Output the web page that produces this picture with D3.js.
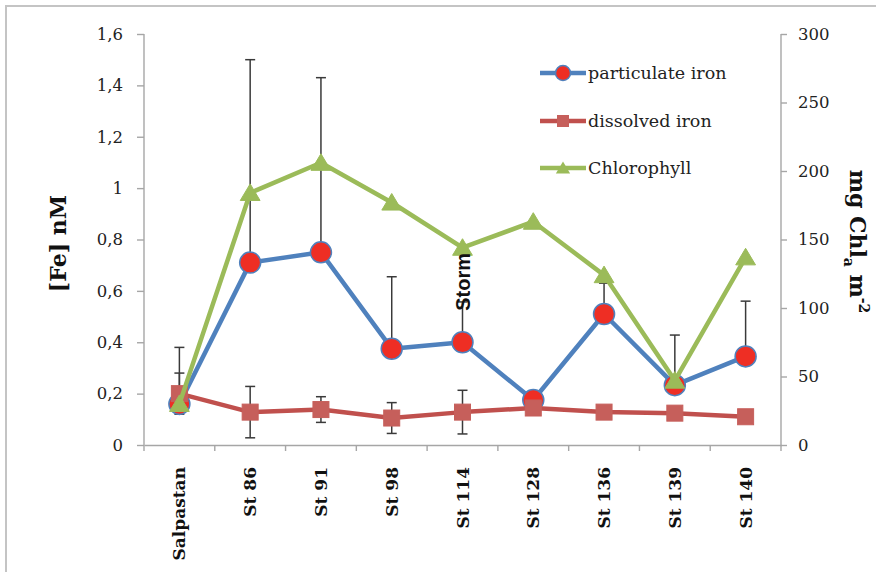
<!DOCTYPE html>
<html>
<head>
<meta charset="utf-8">
<script src="https://cdn.jsdelivr.net/npm/d3@7"></script>
<style>
  html, body { margin: 0; padding: 0; background: #ffffff; }
  svg { display: block; }
</style>
</head>
<body>
<svg id="chart" width="876" height="572"></svg>
<script>
// ---- data ----
const categories = ["Salpastan", "St 86", "St 91", "St 98", "St 114", "St 128", "St 136", "St 139", "St 140"];
const particulateIron = [0.16, 0.71, 0.75, 0.375, 0.40, 0.175, 0.51, 0.233, 0.345];
const particulateErr = [0.22, 0.79, 0.68, 0.28, 0.157, 0, 0.12, 0.195, 0.215];
const dissolvedIron = [0.20, 0.128, 0.138, 0.105, 0.128, 0.144, 0.128, 0.124, 0.11];
const dissolvedErr = [0.08, 0.10, 0.05, 0.06, 0.085, 0, 0, 0, 0];
const chlorophyll = [30, 184, 206, 177, 144, 163, 124, 47, 137];
const leftTicks = [0, 0.2, 0.4, 0.6, 0.8, 1, 1.2, 1.4, 1.6];
const leftTickLabels = ["0", "0,2", "0,4", "0,6", "0,8", "1", "1,2", "1,4", "1,6"];
const rightTicks = [0, 50, 100, 150, 200, 250, 300];
const seriesNames = ["particulate iron", "dissolved iron", "Chlorophyll"];
const annotation = { category: "St 114", text: "Storm", value: 0.635 };

// ---- layout ----
const svg = d3.select("#chart");
const pLeft = 144, pRight = 781, pTop = 34, pBottom = 445;
const x = d3.scaleBand().domain(categories).range([pLeft, pRight]).paddingInner(0).paddingOuter(0);
const cx = c => x(c) + x.bandwidth() / 2;
const yL = d3.scaleLinear().domain([0, 1.6]).range([pBottom, pTop]);
const yR = d3.scaleLinear().domain([0, 300]).range([pBottom, pTop]);

const BLUE = "#4F81BD", RED = "#C0504D", GREEN = "#9BBB59", DOT = "#EE2E24";
const AXIS = "#A6A6A6";
const SERIF = "'DejaVu Serif', serif";

// frame
svg.append("rect").attr("x", 6).attr("y", 6).attr("width", 900).attr("height", 600)
  .attr("fill", "none").attr("stroke", "#C4C4C4").attr("stroke-width", 2);

// ---- axes ----
const gL = svg.append("g").attr("transform", `translate(${pLeft},0)`)
  .call(d3.axisLeft(yL).tickValues(leftTicks).tickFormat((d, i) => leftTickLabels[i]).tickSize(7).tickPadding(14));
const gR = svg.append("g").attr("transform", `translate(${pRight},0)`)
  .call(d3.axisRight(yR).tickValues(rightTicks).tickSize(6).tickPadding(11));
const gX = svg.append("g").attr("transform", `translate(0,${pBottom})`)
  .call(d3.axisBottom(x).tickSize(0).tickFormat(""));

[gL, gR, gX].forEach(g => {
  g.select(".domain").attr("stroke", AXIS).attr("stroke-width", 1.4);
  g.selectAll(".tick line").attr("stroke", AXIS).attr("stroke-width", 1.4);
  g.selectAll(".tick text").attr("fill", "#222").attr("font-family", SERIF).attr("font-size", 16.5);
});
gL.select(".domain").attr("d", `M0,${pTop}V${pBottom}`);
gR.select(".domain").attr("d", `M0,${pTop}V${pBottom}`);

// category boundary ticks on x axis
const bounds = categories.map(c => x(c)).concat([pRight]);
svg.append("g").selectAll("line").data(bounds).join("line")
  .attr("x1", d => d).attr("x2", d => d).attr("y1", pBottom).attr("y2", pBottom + 6)
  .attr("stroke", AXIS).attr("stroke-width", 1.4);

// x labels
svg.append("g").selectAll("text").data(categories).join("text")
  .attr("transform", d => `translate(${cx(d)},${pBottom + 22}) rotate(-90)`)
  .attr("y", 6)
  .attr("text-anchor", "end")
  .attr("font-family", SERIF).attr("font-weight", "bold").attr("font-size", 17)
  .attr("fill", "#111")
  .text(d => d);

// axis titles
svg.append("text").attr("transform", `translate(58,${(pTop + pBottom) / 2 + 4}) rotate(-90)`)
  .attr("y", 8).attr("text-anchor", "middle")
  .attr("font-family", SERIF).attr("font-weight", "bold").attr("font-size", 22).attr("fill", "#111")
  .text("[Fe] nM");

const rt = svg.append("text").attr("transform", `translate(858,${(pTop + pBottom) / 2 + 2}) rotate(90)`)
  .attr("y", 8).attr("text-anchor", "middle")
  .attr("font-family", SERIF).attr("font-weight", "bold").attr("font-size", 22).attr("fill", "#111");
rt.append("tspan").text("mg Chl");
rt.append("tspan").attr("dy", 6).attr("font-size", 14).text("a");
rt.append("tspan").attr("dy", -6).text(" m");
rt.append("tspan").attr("dy", -9).attr("font-size", 14).text("-2");

// ---- series ----
const idx = d3.range(categories.length);

function errorBars(values, errs, scale, both) {
  const g = svg.append("g").attr("stroke", "#3A3A3A").attr("stroke-width", 1.5);
  idx.filter(i => errs[i] > 0).forEach(i => {
    const xc = cx(categories[i]);
    const yTop = scale(values[i] + errs[i]);
    const yBot = both ? scale(Math.max(0, values[i] - errs[i])) : scale(values[i]);
    g.append("line").attr("x1", xc).attr("x2", xc).attr("y1", yTop).attr("y2", yBot);
    g.append("line").attr("x1", xc - 5).attr("x2", xc + 5).attr("y1", yTop).attr("y2", yTop);
    if (both) g.append("line").attr("x1", xc - 5).attr("x2", xc + 5).attr("y1", yBot).attr("y2", yBot);
  });
}

function line(values, scale, color) {
  svg.append("path").datum(idx)
    .attr("d", d3.line().x(i => cx(categories[i])).y(i => scale(values[i])))
    .attr("fill", "none").attr("stroke", color).attr("stroke-width", 4.5).attr("stroke-linejoin", "round");
}

const triPath = s => `M0,${-s * 0.5}L${s * 0.55},${s * 0.42}L${-s * 0.55},${s * 0.42}Z`;

// error bars (drawn beneath series markers)
errorBars(particulateIron, particulateErr, yL, false);
errorBars(dissolvedIron, dissolvedErr, yL, true);

// particulate iron
line(particulateIron, yL, BLUE);
svg.append("g").selectAll("circle").data(idx).join("circle")
  .attr("cx", i => cx(categories[i])).attr("cy", i => yL(particulateIron[i])).attr("r", 10.5)
  .attr("fill", DOT).attr("stroke", BLUE).attr("stroke-width", 1.5);

// dissolved iron
line(dissolvedIron, yL, RED);
svg.append("g").selectAll("rect").data(idx).join("rect")
  .attr("x", i => cx(categories[i]) - 8).attr("y", i => yL(dissolvedIron[i]) - 8)
  .attr("width", 16).attr("height", 16)
  .attr("fill", "#C65F5B").attr("stroke", "#C65F5B").attr("stroke-width", 1);

// chlorophyll
line(chlorophyll, yR, GREEN);
svg.append("g").selectAll("path").data(idx).join("path")
  .attr("transform", i => `translate(${cx(categories[i])},${yR(chlorophyll[i])})`)
  .attr("d", triPath(18))
  .attr("fill", GREEN).attr("stroke", GREEN).attr("stroke-width", 1);

// storm annotation
svg.append("text")
  .attr("transform", `translate(${cx(annotation.category)},${yL(annotation.value)}) rotate(-90)`)
  .attr("y", 7).attr("text-anchor", "middle")
  .attr("font-family", "'Liberation Sans', Arial, sans-serif").attr("font-weight", "bold").attr("font-size", 20)
  .attr("fill", "#111").text(annotation.text);

// ---- legend ----
const legendY = [73, 121, 168];
const legendColors = [BLUE, RED, GREEN];
const lg = svg.append("g");
seriesNames.forEach((name, i) => {
  const yy = legendY[i];
  lg.append("line").attr("x1", 540).attr("x2", 586).attr("y1", yy).attr("y2", yy)
    .attr("stroke", legendColors[i]).attr("stroke-width", 4.5);
  if (i === 0) lg.append("circle").attr("cx", 563).attr("cy", yy).attr("r", 7.5)
    .attr("fill", DOT).attr("stroke", BLUE).attr("stroke-width", 1.5);
  if (i === 1) lg.append("rect").attr("x", 557).attr("y", yy - 6).attr("width", 12).attr("height", 12)
    .attr("fill", "#C65F5B");
  if (i === 2) lg.append("path").attr("transform", `translate(563,${yy})`).attr("d", triPath(13))
    .attr("fill", GREEN);
  lg.append("text").attr("x", 588).attr("y", yy).attr("dy", "0.35em")
    .attr("font-family", SERIF).attr("font-size", 17.5).attr("fill", "#222").text(name);
});
</script>
</body>
</html>
